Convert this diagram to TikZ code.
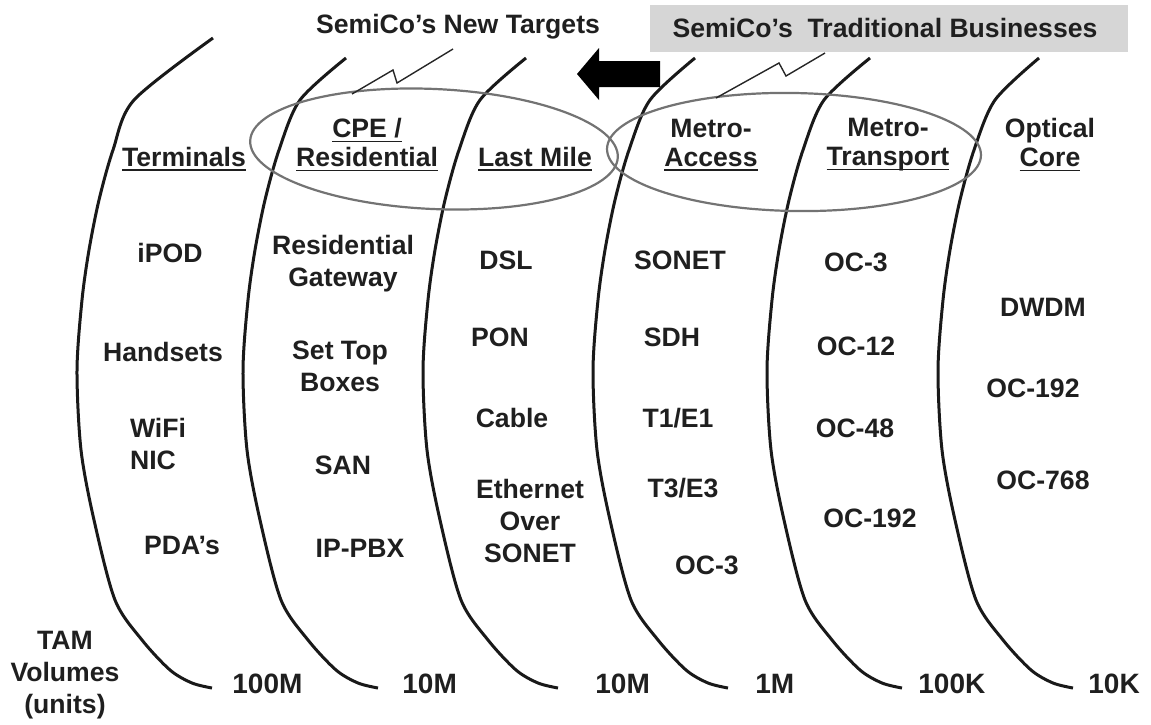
\documentclass[tikz,border=0pt]{standalone}
\usepackage{fontspec}
\setmainfont{Liberation Sans}
\usepackage{tikz}

\newcommand{\undl}[1]{\setbox0\hbox{#1}\rlap{\rule[-2.2pt]{\wd0}{0.8pt}}\box0}

\tikzset{
  txt/.style={font=\fontsize{13.3}{16}\selectfont\bfseries, align=center, inner sep=0pt, text=black!88},
  hdr/.style={txt, font=\fontsize{13.3}{14.5}\selectfont\bfseries},
  vol/.style={txt, font=\fontsize{14}{16}\selectfont\bfseries, anchor=west},
  band/.style={line width=1.5pt, black!90},
  ring/.style={draw=black!55, line width=1.1pt},
  zig/.style={line width=0.7pt, black!85}
}

\begin{document}
\begin{tikzpicture}
  [x=0.5pt, y=-0.5pt]
  \useasboundingbox (0, 0) rectangle (1151, 724);

  % banner behind the old business title
  \fill[black!16] (650, 5) rectangle (1128, 52);

  % market bands
  \foreach \x/\tx/\ty in {77/136/38, 243/103/58, 423/103/58, 593/102/58, 767/103/58, 938/101/58}
  \draw[band] plot[smooth] coordinates {(\x+\tx, \ty) (\x+57, 100) (\x+36, 150) (\x+22, 200)
    (\x+12, 250) (\x+5, 300) (\x, 370) (\x+4, 450) (\x+17, 520) (\x+38, 600) (\x+65, 640)
    (\x+93, 670) (\x+115, 683) (\x+135, 688)};

  % target rings
  \draw[ring, rotate around={-2.6:(434, 149)}] (434, 149) ellipse (184 and 60);
  \draw[ring, rotate around={-1:(794, 152)}] (794, 152) ellipse (187 and 59);

  % titles
  \node[txt] (newtitle) at (458, 27) {SemiCo’s New Targets};
  \node[txt] (oldtitle) at (885, 28) {SemiCo’s\ \ Traditional Businesses};

  \coordinate (newfoot) at (352, 94);
  \coordinate (newtip) at (453, 49);
  \coordinate (oldfoot) at (716, 98);
  \coordinate (oldtip) at (825, 53);
  \draw[zig] (newfoot) -- (393, 70) -- (397, 83) -- (newtip);
  \draw[zig] (oldfoot) -- (779, 63) -- (786, 76) -- (oldtip);

  % shift arrow
  \fill[black] (577, 74) -- (599, 48) -- (599, 61) -- (660, 61) -- (660, 87)
    -- (599, 87) -- (599, 100) -- cycle;

  % segment headers
  \node[hdr] (term) at (184, 159) {\undl{Terminals}};
  \node[hdr] (cpe) at (367, 145) {\undl{CPE /}\\\undl{Residential}};
  \node[hdr] (lastmile) at (535, 159) {\undl{Last Mile}};
  \node[hdr] (maccess) at (711, 145) {Metro-\\\undl{Access}};
  \node[hdr] (mtrans) at (888, 145) {Metro-\\\undl{Transport}};
  \node[hdr] (optcore) at (1050, 145) {Optical\\\undl{Core}};

  % terminals
  \node[txt] (ipod) at (170, 253) {iPOD};
  \node[txt] (handsets) at (163, 352) {Handsets};
  \node[txt, align=left] (wifi) at (158, 444) {WiFi\\NIC};
  \node[txt] (pda) at (182, 545) {PDA’s};

  % residential
  \node[txt] (gateway) at (343, 264) {Residential\\Gateway};
  \node[txt] (settop) at (340, 366) {Set Top\\Boxes};
  \node[txt] (san) at (343, 465) {SAN};
  \node[txt] (pbx) at (360, 548) {IP-PBX};

  % last mile
  \node[txt] (dsl) at (506, 260) {DSL};
  \node[txt] (pon) at (500, 337) {PON};
  \node[txt] (cable) at (512, 418) {Cable};
  \node[txt] (eos) at (530, 521) {Ethernet\\Over\\SONET};

  % metro access
  \node[txt] (sonet) at (680, 260) {SONET};
  \node[txt] (sdh) at (672, 337) {SDH};
  \node[txt] (tone) at (678, 418) {T1/E1};
  \node[txt] (tthree) at (683, 488) {T3/E3};
  \node[txt] (aoc3) at (707, 565) {OC-3};

  % metro transport
  \node[txt] (toc3) at (856, 262) {OC-3};
  \node[txt] (toc12) at (856, 346) {OC-12};
  \node[txt] (toc48) at (855, 428) {OC-48};
  \node[txt] (toc192) at (870, 518) {OC-192};

  % optical core
  \node[txt] (dwdm) at (1043, 307) {DWDM};
  \node[txt] (coc192) at (1033, 388) {OC-192};
  \node[txt] (coc768) at (1043, 480) {OC-768};

  % volumes
  \node[txt] (tam) at (65, 675) {TAM\\Volumes\\(units)};
  \node[vol] (v1) at (232, 684) {100M};
  \node[vol] (v2) at (402, 684) {10M};
  \node[vol] (v3) at (595, 684) {10M};
  \node[vol] (v4) at (755, 684) {1M};
  \node[vol] (v5) at (918, 684) {100K};
  \node[vol] (v6) at (1088, 684) {10K};
\end{tikzpicture}
\end{document}
